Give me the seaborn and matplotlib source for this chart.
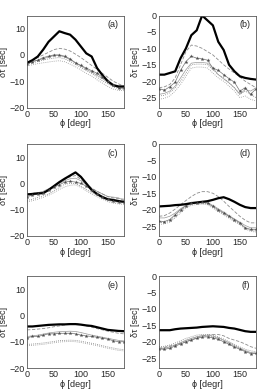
import matplotlib
matplotlib.use("Agg")
import matplotlib.pyplot as plt
import seaborn as sns
import numpy as np

sns.set_theme(style="white")
plt.rcParams['font.family'] = ['Liberation Sans', 'DejaVu Sans']

phi = [0, 10, 20, 30, 40, 50, 60, 70, 80, 90, 100, 110, 120, 130, 140, 150, 160, 170, 180]
x_ticks = [0, 50, 100, 150]
y_ticks_left = [-20, -10, 0, 10]
y_ticks_right = [-25, -20, -15, -10, -5, 0]
panel_labels = ["(a)", "(b)", "(c)", "(d)", "(e)", "(f)"]

a_black = [-3, -2, -0.6, 2, 5, 7, 9, 8.3, 7.7, 5.8, 3.2, 0.6, -0.6, -5, -7.7, -10, -11.5, -12, -12]
a_dash = [-3, -2, -1, 0, 1, 2, 2.5, 2.2, 1.5, 0.3, -1, -2.5, -4, -5.5, -7, -8.5, -10, -11, -12]
a_star = [-3.5, -2.5, -2, -1, -0.5, 0, 0, -0.5, -1.5, -3, -4, -5, -6, -7, -8.5, -10, -11.5, -12.5, -12.5]
a_solid = [-3, -2.5, -2, -1.5, -0.8, -0.3, -0.2, -0.8, -1.8, -3, -4.2, -5.5, -6.5, -7.8, -9, -10.5, -11.8, -12.5, -12.8]
a_dot1 = [-3.5, -3, -2.5, -2, -1.5, -1.2, -1, -1.5, -2.5, -3.5, -4.8, -6, -7, -8.5, -9.8, -11, -12.2, -12.8, -13]
a_dot2 = [-4, -3.8, -3.3, -3, -2.7, -2.4, -2.2, -2.6, -3.5, -4.5, -5.7, -7, -8, -9.5, -10.7, -12, -13, -13.5, -13.6]

b_black = [-18, -18, -17.5, -17, -13, -10, -6, -4.5, 0, -1.5, -3, -8, -10.5, -15, -17, -18.5, -19, -19.3, -19.5]
b_dash = [-22, -21.7, -21, -19, -15, -11, -9, -9.3, -10, -11, -12, -13.5, -15, -16.3, -17.5, -18.7, -20, -21, -22]
b_star = [-22.3, -22.7, -21.7, -20.3, -16.7, -14, -12.4, -13, -13.2, -13.6, -16, -16.7, -18, -19.2, -20.3, -23, -22, -24, -22.3]
b_solid = [-24, -23.7, -23, -21.5, -19, -16.5, -14.5, -14.3, -14.3, -14.5, -16, -18, -19.3, -20.5, -22, -24, -22.5, -23, -22]
b_dot1 = [-24.5, -24.3, -23.5, -22, -20, -17.5, -15, -14.8, -14.8, -15, -16.5, -18, -19, -20.5, -22, -24, -23, -24, -25]
b_dot2 = [-25.5, -25.2, -24.5, -23, -21, -18.5, -16, -15.7, -15.7, -16, -17.5, -19, -20, -21.5, -23, -25, -24.5, -25.5, -26]

c_black = [-4.2, -4, -3.8, -3.7, -2.5, -1, 0.5, 1.8, 3, 4.2, 2.5, 0, -2.5, -4, -5.2, -6, -6.3, -6.7, -7]
c_dash = [-4, -3.8, -3.5, -3.3, -2.2, -1, 0.2, 1.5, 2.5, 3, 1.5, 0, -1.8, -3, -4, -5, -5.5, -5.8, -6]
c_star = [-5, -4.5, -4, -3.5, -2.5, -1.5, -0.5, 0.5, 0.8, 0.5, 0, -1, -2.5, -4, -5, -6, -6.5, -7, -7]
c_solid = [-4.2, -3.8, -3.5, -3, -2, -1, 0, 1, 1.8, 2, 1, -0.5, -2, -3, -4, -5, -5.2, -5.5, -6.5]
c_dot1 = [-6.5, -6, -5.3, -4.7, -4, -2.8, -1.5, -0.3, 0, 0, -1, -2.3, -3.5, -4.5, -5.5, -6.5, -7, -7.3, -7.5]
c_dot2 = [-7, -6.6, -6, -5.3, -4.5, -3.5, -2.3, -1.3, -0.7, -0.5, -1.5, -2.8, -4, -5, -6, -7, -7.5, -7.8, -8]

d_black = [-19, -18.9, -18.8, -18.6, -18.5, -18.3, -18, -17.8, -17.6, -17.4, -17, -16.5, -16.2, -16.8, -17.6, -18.5, -19.2, -19.5, -19.5]
d_dash = [-22, -21.8, -21, -19.8, -18.5, -17.2, -16, -15, -14.5, -14.5, -15, -16, -17.4, -19, -20.5, -22, -23.2, -24, -24]
d_star = [-23.5, -23.6, -23, -21.5, -20, -18.8, -18, -18, -17.8, -18, -19, -20, -21, -22, -23, -24, -25.5, -26, -26]
d_solid = [-22.5, -22.5, -22, -21, -19.7, -18.7, -18, -17.8, -17.6, -17.8, -18.7, -19.7, -20.7, -21.8, -22.8, -23.8, -24.8, -25.5, -25.5]
d_dot1 = [-24, -23.8, -23.3, -22, -20.5, -19, -18.3, -18, -18, -18.2, -19.2, -20.3, -21.3, -22.3, -23.3, -24.3, -25.5, -26.3, -26.5]
d_dot2 = [-24.5, -24.3, -23.8, -22.5, -21, -19.5, -18.7, -18.4, -18.3, -18.5, -19.5, -20.6, -21.6, -22.6, -23.6, -24.6, -25.8, -26.6, -26.8]

e_black = [-4.2, -4.2, -4, -3.8, -3.6, -3.5, -3.4, -3.4, -3.3, -3.3, -3.5, -3.8, -4, -4.5, -5, -5.5, -5.7, -5.9, -6]
e_dash = [-5.5, -5.4, -5.2, -5, -4.7, -4.3, -4, -3.6, -3.2, -3, -3.5, -4, -4.5, -5, -5.5, -6, -6.4, -6.8, -7]
e_star = [-8.5, -8, -8, -7.5, -7, -7, -6.8, -6.8, -6.8, -7, -7.5, -7.8, -8, -8.3, -8.7, -9, -9.6, -10, -10]
e_solid = [-8, -7.8, -7.5, -7.1, -6.7, -6.4, -6.2, -6.1, -6, -6.1, -6.5, -7, -7.5, -7.9, -8.3, -8.7, -9.1, -9.5, -9.7]
e_dot1 = [-11, -10.9, -10.7, -10.5, -10.2, -9.9, -9.6, -9.5, -9.4, -9.5, -9.8, -10.2, -10.6, -11, -11.5, -12, -12.4, -12.8, -13]
e_dot2 = [-11.5, -11.4, -11.2, -11, -10.7, -10.4, -10.1, -10, -9.9, -10, -10.3, -10.7, -11.1, -11.5, -12, -12.5, -12.9, -13.3, -13.5]

f_black = [-16.5, -16.5, -16.5, -16.2, -16, -15.9, -15.8, -15.7, -15.5, -15.4, -15.3, -15.4, -15.5, -15.8, -16, -16.4, -16.8, -17, -17]
f_dash = [-22, -21.7, -21.3, -21, -20.5, -20, -19.5, -18.8, -18.3, -18, -17.8, -17.8, -18.2, -19, -19.5, -20, -20.7, -21.5, -22]
f_star = [-22.2, -22.3, -22, -21.3, -20.7, -20, -19.4, -19, -18.6, -18.5, -18.8, -19.3, -20, -20.8, -21.6, -22.3, -23, -23.6, -23.5]
f_solid = [-22, -22, -21.6, -21, -20.3, -19.6, -19, -18.5, -18.1, -18, -18.3, -18.8, -19.5, -20.3, -21.2, -22, -22.7, -23.3, -23.5]
f_dot1 = [-21.5, -21.4, -21, -20.4, -19.7, -19, -18.5, -18, -17.8, -17.8, -18, -18.5, -19.2, -20, -20.8, -21.6, -22.3, -22.8, -23]
f_dot2 = [-22, -21.9, -21.5, -20.9, -20.2, -19.5, -19, -18.5, -18.3, -18.3, -18.5, -19, -19.7, -20.5, -21.3, -22.1, -22.8, -23.3, -23.5]

panels = [
    (a_black, a_dash, a_star, a_solid, a_dot1, a_dot2),
    (b_black, b_dash, b_star, b_solid, b_dot1, b_dot2),
    (c_black, c_dash, c_star, c_solid, c_dot1, c_dot2),
    (d_black, d_dash, d_star, d_solid, d_dot1, d_dot2),
    (e_black, e_dash, e_star, e_solid, e_dot1, e_dot2),
    (f_black, f_dash, f_star, f_solid, f_dot1, f_dot2),
]

W, H = 269, 391
fig = plt.figure(figsize=(W / 100, H / 100), dpi=100)

col_left = [27, 159]
row_top = [15.5, 144, 276]
aw, ah = 97, 92

for i, (blk, dsh, star, sol, d1, d2) in enumerate(panels):
    r, c = divmod(i, 2)
    ax = fig.add_axes([col_left[c] / W, 1 - (row_top[r] + ah) / H, aw / W, ah / H])
    sns.lineplot(x=phi, y=d2, ax=ax, color='0.6', lw=0.6, linestyle=(0, (1, 1.5)))
    sns.lineplot(x=phi, y=d1, ax=ax, color='0.5', lw=0.6, linestyle=(0, (1, 1.5)))
    sns.lineplot(x=phi, y=sol, ax=ax, color='0.6', lw=0.5)
    sns.lineplot(x=phi, y=dsh, ax=ax, color='0.55', lw=0.6, linestyle=(0, (4, 2)))
    sns.lineplot(x=phi, y=star, ax=ax, color='0.45', lw=0.5)
    sns.scatterplot(x=phi, y=star, ax=ax, color='0.3', marker='*', s=9,
                    linewidth=0, zorder=5)
    sns.lineplot(x=phi, y=blk, ax=ax, color='black', lw=1.6)
    ax.set_xlim(0, 180)
    if c == 0:
        ax.set_ylim(-20, 15)
        ax.set_yticks(y_ticks_left)
    else:
        ax.set_ylim(-28, 0)
        ax.set_yticks(y_ticks_right)
    ax.set_xticks(x_ticks)
    ax.tick_params(direction='in', length=2, width=0.5, labelsize=6.5,
                   colors='0.15', pad=1.5)
    for s in ax.spines.values():
        s.set_color('0.35')
        s.set_linewidth(0.6)
    ax.set_xlabel("ϕ [degr]", fontsize=6.5, labelpad=0.5, color='0.15')
    ax.set_ylabel("δτ [sec]", fontsize=6.5, labelpad=1, color='0.15')
    ax.text(0.94, 0.9, panel_labels[i], transform=ax.transAxes, ha='right',
            va='center', fontsize=6.5, color='0.15')

fig.savefig("out.png", dpi=100)
